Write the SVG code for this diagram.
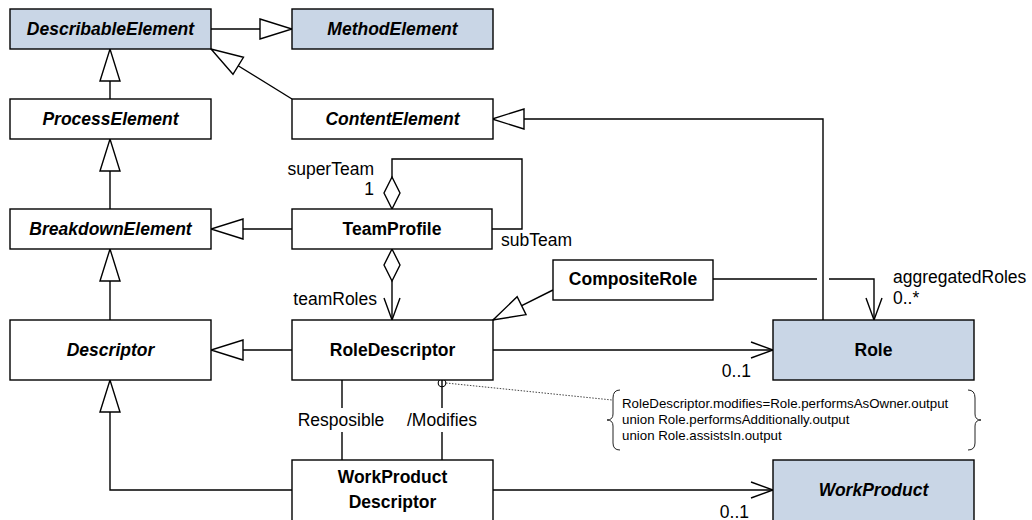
<svg xmlns="http://www.w3.org/2000/svg" width="1032" height="520" viewBox="0 0 1032 520">
<style>
.box{fill:#fff;stroke:#000;stroke-width:1.4}
.blue{fill:#c9d6e6}
.nt{font-family:"Liberation Sans",Arial,sans-serif;font-size:17.5px;font-weight:bold;text-anchor:middle;fill:#000}
.it{font-style:italic}
.lb{font-family:"Liberation Sans",Arial,sans-serif;font-size:17.5px;fill:#000}
.note{font-family:"Liberation Sans",Arial,sans-serif;font-size:13.3px;fill:#000}
.ln{fill:none;stroke:#000;stroke-width:1.4}
.gen{marker-end:url(#tri)}
.nav{marker-end:url(#open)}
.agg{marker-start:url(#dia)}
.dot{fill:none;stroke:#444;stroke-width:1;stroke-dasharray:1.5 1.5}
.brace{fill:none;stroke:#222;stroke-width:1}
</style>
<defs>
<marker id="tri" markerUnits="userSpaceOnUse" markerWidth="34" markerHeight="22" refX="32" refY="11" orient="auto" overflow="visible">
<path d="M0,1 L32,11 L0,21 Z" fill="#fff" stroke="#000" stroke-width="1.4"/>
</marker>
<marker id="open" markerUnits="userSpaceOnUse" markerWidth="24" markerHeight="18" refX="22" refY="8" orient="auto" overflow="visible">
<path d="M0,0 L22,8 L0,16" fill="none" stroke="#000" stroke-width="1.4"/>
</marker>
<marker id="dia" markerUnits="userSpaceOnUse" markerWidth="34" markerHeight="18" refX="0" refY="8" orient="auto" overflow="visible">
<path d="M0,8 L16,0 L32,8 L16,16 Z" fill="#fff" stroke="#000" stroke-width="1.4"/>
</marker>
</defs>

<g id="connectors">
<path class="ln gen" d="M211,29 H292"/>
<path class="ln gen" d="M110,99 V49"/>
<path class="ln gen" d="M292,99 L211,49"/>
<path class="ln gen" d="M110,209 V139"/>
<path class="ln gen" d="M292,229 H211"/>
<path class="ln gen" d="M110,320 V249"/>
<path class="ln gen" d="M292,350 H211"/>
<path class="ln gen" d="M292,490 H110 V380"/>
<path class="ln gen" d="M823,320 V119 H492"/>
<path class="ln gen" d="M553,290 L493,320"/>
<path class="ln agg" d="M392,209 V159 H522 V229 H492"/>
<path class="ln agg nav" d="M392,249 V320"/>
<path class="ln nav" d="M713,279 H817 M829,279 H874 V320"/>
<path class="ln nav" d="M493,350 H773"/>
<path class="ln nav" d="M493,490 H773"/>
<path class="ln" d="M342,380 V408 M342,432 V460"/>
<path class="ln" d="M442,380 V408 M442,432 V460"/>
<circle cx="442" cy="383" r="3.8" fill="none" stroke="#000" stroke-width="1.1"/>
<path class="dot" d="M446,383 L612,400"/>
<path class="brace" d="M620,390 Q613,390 613,398 V414 Q613,420 607,420 Q613,420 613,426 V443 Q613,450 620,450"/>
<path class="brace" d="M968,390 Q975,390 975,398 V414 Q975,420 981,420 Q975,420 975,426 V443 Q975,450 968,450"/>
<text class="lb" x="374" y="175" text-anchor="end">superTeam</text>
<text class="lb" x="374" y="195" text-anchor="end">1</text>
<text class="lb" x="501" y="246">subTeam</text>
<text class="lb" x="377" y="305" text-anchor="end">teamRoles</text>
<text class="lb" x="893" y="283">aggregatedRoles</text>
<text class="lb" x="893" y="304">0..*</text>
<text class="lb" x="751" y="377" text-anchor="end">0..1</text>
<text class="lb" x="749" y="518" text-anchor="end">0..1</text>
<text class="lb" x="341" y="426" text-anchor="middle">Resposible</text>
<text class="lb" x="442" y="426" text-anchor="middle">/Modifies</text>
<text class="note" x="622" y="408">RoleDescriptor.modifies=Role.performsAsOwner.output</text>
<text class="note" x="622" y="424">union Role.performsAdditionally.output</text>
<text class="note" x="622" y="440">union Role.assistsIn.output</text>
</g>

<g id="DescribableElement"><rect class="box blue" x="10" y="9" width="201" height="40"/><text class="nt it" x="110.5" y="35">DescribableElement</text></g>
<g id="MethodElement"><rect class="box blue" x="292" y="9" width="201" height="40"/><text class="nt it" x="392.5" y="35">MethodElement</text></g>
<g id="ProcessElement"><rect class="box" x="10" y="99" width="201" height="40"/><text class="nt it" x="110.5" y="125">ProcessElement</text></g>
<g id="ContentElement"><rect class="box" x="292" y="99" width="201" height="40"/><text class="nt it" x="392.5" y="125">ContentElement</text></g>
<g id="BreakdownElement"><rect class="box" x="10" y="209" width="201" height="40"/><text class="nt it" x="110.5" y="235">BreakdownElement</text></g>
<g id="TeamProfile"><rect class="box" x="292" y="209" width="200" height="40"/><text class="nt" x="392" y="235">TeamProfile</text></g>
<g id="CompositeRole"><rect class="box" x="553" y="260" width="160" height="40"/><text class="nt" x="633" y="285">CompositeRole</text></g>
<g id="Descriptor"><rect class="box" x="10" y="320" width="201" height="60"/><text class="nt it" x="110.5" y="356">Descriptor</text></g>
<g id="RoleDescriptor"><rect class="box" x="292" y="320" width="201" height="60"/><text class="nt" x="392.5" y="356">RoleDescriptor</text></g>
<g id="Role"><rect class="box blue" x="773" y="320" width="201" height="60"/><text class="nt" x="873.5" y="356">Role</text></g>
<g id="WorkProductDescriptor"><rect class="box" x="292" y="460" width="201" height="64"/><text class="nt" x="392.5" y="483">WorkProduct</text><text class="nt" x="392.5" y="508">Descriptor</text></g>
<g id="WorkProduct"><rect class="box blue" x="773" y="460" width="201" height="64"/><text class="nt it" x="873.5" y="496">WorkProduct</text></g>
</svg>
